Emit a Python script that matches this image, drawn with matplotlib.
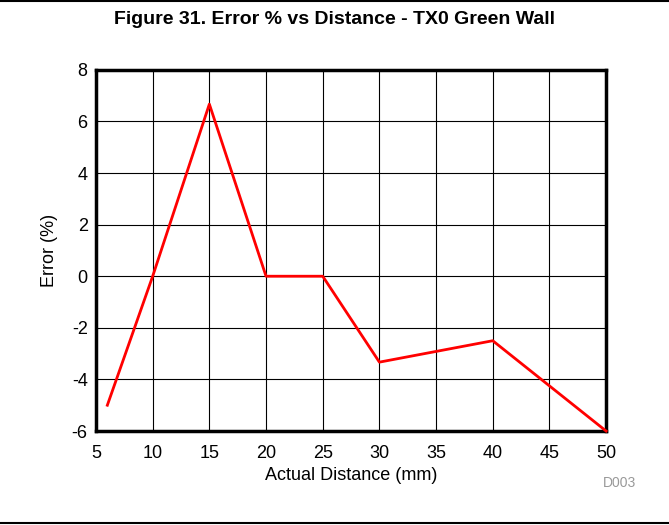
import matplotlib
matplotlib.use("Agg")
import matplotlib.pyplot as plt
from matplotlib.lines import Line2D

plt.rcParams['font.family'] = ['Liberation Sans', 'DejaVu Sans']
plt.rcParams['axes.unicode_minus'] = False

# actual distance (mm) and measured error (%)
distance = [6, 10, 15, 20, 25, 30, 40, 50]
error_pct = [-5.0, 0.0, 6.67, 0.0, 0.0, -3.33, -2.5, -6.0]

x_ticks = list(range(5, 51, 5))
y_ticks = list(range(-6, 9, 2))

fig = plt.figure(figsize=(6.69, 5.25), dpi=100)
ax = fig.add_axes([0.1435, 0.179, 0.7625, 0.688])

ax.plot(distance, error_pct, color='red', linewidth=2, clip_on=False, zorder=3)

ax.set_xlim(5, 50)
ax.set_ylim(-6, 8)
ax.set_xticks(x_ticks)
ax.set_yticks(y_ticks)
ax.tick_params(length=0, labelsize=13)
ax.tick_params(axis='x', pad=10)
ax.tick_params(axis='y', pad=6)
ax.grid(True, color='black', linewidth=0.8)
for s in ax.spines.values():
    s.set_linewidth(2.5)

ax.set_xlabel('Actual Distance (mm)', fontsize=13, labelpad=4)
ax.set_ylabel('Error (%)', fontsize=13, labelpad=10)

fig.suptitle('Figure 31. Error % vs Distance - TX0 Green Wall',
             fontsize=14, fontweight='bold', y=0.98)
fig.text(0.926, 0.072, 'D003', color='#999999', fontsize=10, ha='center')

# rule lines at top and bottom of the figure
fig.add_artist(Line2D([0, 1], [0.998, 0.998], color='black', linewidth=1.5))
fig.add_artist(Line2D([0, 1], [0.004, 0.004], color='black', linewidth=1.5))

fig.savefig('out.png', dpi=100)
